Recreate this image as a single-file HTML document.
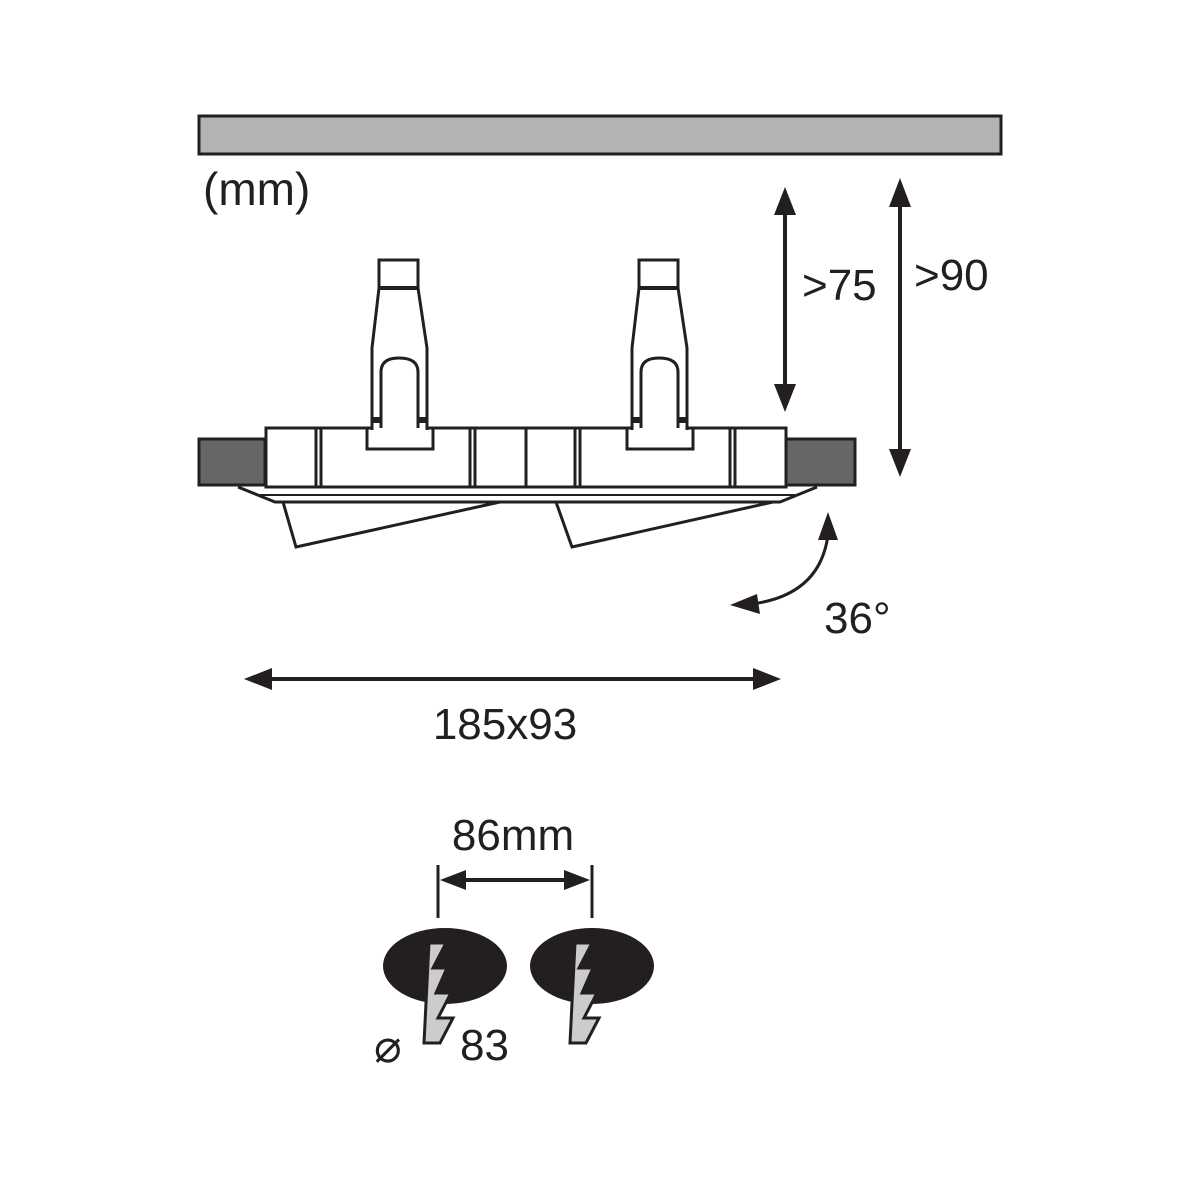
<!DOCTYPE html>
<html><head><meta charset="utf-8"><style>html,body{margin:0;padding:0;background:#fff}svg{display:block}</style></head>
<body>
<svg width="1200" height="1200" viewBox="0 0 1200 1200" xmlns="http://www.w3.org/2000/svg" font-family="Liberation Sans, DejaVu Sans, sans-serif" fill="none" stroke="#231f20">
<defs>
<g id="post">
<rect x="367" y="428" width="66" height="21" fill="#fff" stroke-width="3"/>
<path d="M372,430 L372,348 L379,288 L379,260 L418,260 L418,288 L427,348 L427,430" fill="#fff" stroke-width="3"/>
<path d="M379,288 H418" stroke-width="4"/>
<path d="M381,428 V372 Q381,358 399,358 Q418,358 418,372 V428" stroke-width="3"/>
<path d="M372,420 h9 M418,420 h9" stroke-width="6"/>
</g>
<g id="bolt"><path d="M429,943 L446,943 L433,968 L447,968 L436,993 L451,993 L438,1018 L453,1018 L440,1043 L424,1043 Z" fill="#ccc" stroke="#231f20" stroke-width="3" stroke-linejoin="miter"/></g>
</defs>
<rect x="199" y="116" width="802" height="38" fill="#b3b3b3" stroke-width="3"/>
<text x="203" y="205" font-size="46" fill="#231f20" stroke="none">(mm)</text>

<path d="M283,502 L296,547 L500,502" stroke-width="3"/>
<path d="M556,502 L572,547 L773,502" stroke-width="3"/>
<path d="M238,487 L275,502 L780,502 L817,487" fill="#fff" stroke-width="3"/>
<path d="M260,495 H795" stroke-width="2"/>
<rect x="199" y="439" width="66" height="46" fill="#666" stroke-width="3"/>
<rect x="786" y="439" width="69" height="46" fill="#666" stroke-width="3"/>
<rect x="266" y="428" width="520" height="59" fill="#fff" stroke-width="3"/>
<path d="M316,428V487M321,428V487M470,428V487M475,428V487M526,428V487M575,428V487M580,428V487M730,428V487M735,428V487" stroke-width="3"/>
<use href="#post"/>
<use href="#post" transform="translate(260,0)"/>

<g fill="#231f20" stroke="none">
<rect x="783" y="210" width="4" height="180"/>
<polygon points="785,187 774,215 796,215"/><polygon points="785,412 774,384 796,384"/>
<rect x="898" y="205" width="4" height="250"/>
<polygon points="900,178 889,207 911,207"/><polygon points="900,477 889,449 911,449"/>
<text x="802" y="300" font-size="44">&gt;75</text>
<text x="914" y="290" font-size="44">&gt;90</text>
<polygon points="828,512 818,540 838,540"/>
<polygon points="730,605 757,594 760,614"/>
<text x="824" y="633" font-size="44">36°</text>
<rect x="268" y="677" width="490" height="4"/>
<polygon points="244,679 272,668 272,690"/><polygon points="781,679 753,668 753,690"/>
<text x="505" y="739" font-size="44" text-anchor="middle">185x93</text>
<text x="513" y="850" font-size="44" text-anchor="middle">86mm</text>
<rect x="460" y="878" width="110" height="4"/>
<polygon points="440,880 466,870 466,890"/><polygon points="590,880 564,870 564,890"/>
<ellipse cx="445" cy="966" rx="62" ry="38"/>
<ellipse cx="592" cy="966" rx="62" ry="38"/>
<text x="374" y="1062" font-size="46">⌀</text>
<text x="460" y="1060" font-size="44">83</text>
</g>
<path d="M828,535 Q820,595 752,604" stroke-width="3"/>
<line x1="438" y1="865" x2="438" y2="918" stroke-width="3"/>
<line x1="592" y1="865" x2="592" y2="918" stroke-width="3"/>
<use href="#bolt"/>
<use href="#bolt" transform="translate(146,0)"/>
</svg>
</body></html>
